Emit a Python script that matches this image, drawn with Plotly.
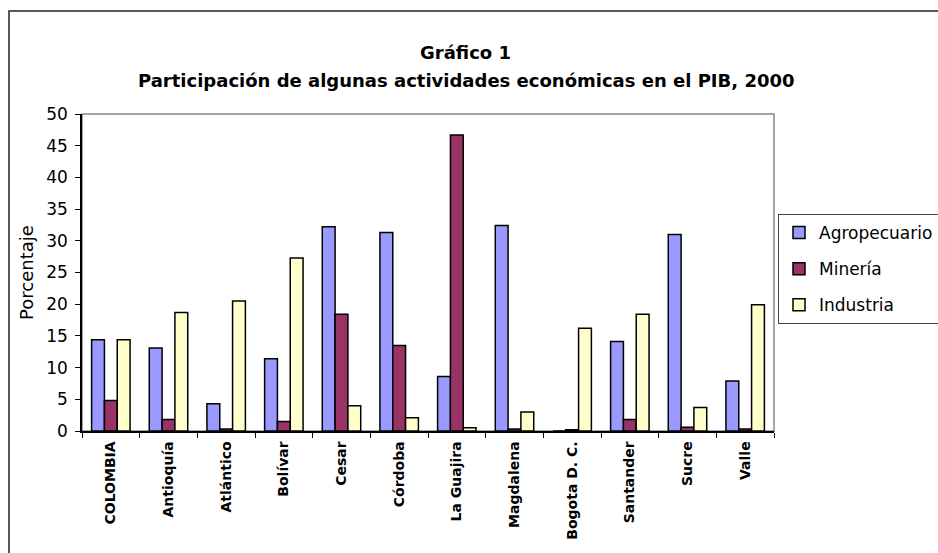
import plotly.graph_objects as go

categories = ["COLOMBIA", "Antioquía", "Atlántico", "Bolívar", "Cesar", "Córdoba",
              "La Guajira", "Magdalena", "Bogota D. C.", "Santander", "Sucre", "Valle"]
agropecuario = [14.4, 13.1, 4.3, 11.4, 32.2, 31.3, 8.6, 32.4, 0.0, 14.1, 31.0, 7.9]
mineria = [4.8, 1.8, 0.3, 1.5, 18.4, 13.5, 46.7, 0.3, 0.2, 1.8, 0.6, 0.3]
industria = [14.4, 18.7, 20.5, 27.3, 4.0, 2.1, 0.5, 3.0, 16.2, 18.4, 3.7, 19.9]
series_names = ["Agropecuario", "Minería", "Industria"]
colors = ["#9999FF", "#993366", "#FFFFCC"]

W, H = 938, 553
L, R, T, B = 82, 774, 114, 431
pw, ph = R - L, B - T

def px(x):
    return (x - L) / pw

def py(y):
    return (B - y) / ph

fig = go.Figure()
for name, vals, col in zip(series_names, [agropecuario, mineria, industria], colors):
    fig.add_trace(go.Bar(x=categories, y=vals, name=name, legendgroup=name,
                         marker=dict(color=col, line=dict(color="black", width=1.5))))

font = "DejaVu Sans, sans-serif"
fig.update_layout(
    width=W, height=H,
    margin=dict(l=L, r=W - R, t=T, b=H - B, autoexpand=False),
    paper_bgcolor="white", plot_bgcolor="white",
    barmode="group", bargap=0.333, bargroupgap=0,
    font=dict(family=font, color="black", size=17),
    showlegend=True,
    legend=dict(x=px(778), y=py(214), xanchor="left", yanchor="top",
                bordercolor="#444", borderwidth=1, bgcolor="white",
                font=dict(size=17, family=font), traceorder="grouped",
                tracegroupgap=11),
    xaxis=dict(type="category", showline=True, linecolor="black", linewidth=1.5,
               ticks="outside", ticklen=5, tickcolor="black", tickson="boundaries",
               tickangle=-90, ticklabelstandoff=3,
               tickfont=dict(size=14, family="DejaVu Sans", color="black", weight="bold"),
               showgrid=False, zeroline=False),
    yaxis=dict(range=[0, 50], dtick=5, showline=True, linecolor="black", linewidth=1.5,
               ticks="outside", ticklen=5, tickcolor="black", ticklabelstandoff=4,
               tickfont=dict(size=17, family=font), showgrid=False, zeroline=False,
               title=dict(text="Porcentaje", font=dict(size=18, family=font), standoff=8)),
    shapes=[
        dict(type="rect", xref="paper", yref="paper", x0=0, x1=1, y0=0, y1=1,
             line=dict(color="#888888", width=1.5), layer="below"),
        dict(type="rect", xref="paper", yref="paper", x0=px(9), x1=px(W + 20),
             y0=py(H + 20), y1=py(11), line=dict(color="#222222", width=1.5), layer="below"),
    ],
    annotations=[
        dict(text="<b>Gráfico 1</b>", xref="paper", yref="paper", x=px(466), y=py(52),
             xanchor="center", yanchor="middle", showarrow=False,
             font=dict(size=18, family=font)),
        dict(text="<b>Participación de algunas actividades económicas en el PIB, 2000</b>",
             xref="paper", yref="paper", x=px(466), y=py(80),
             xanchor="center", yanchor="middle", showarrow=False,
             font=dict(size=18, family=font)),
    ],
)

fig.write_html("out.html", config={"displayModeBar": False},
               post_script="document.body.style.margin='0';")
